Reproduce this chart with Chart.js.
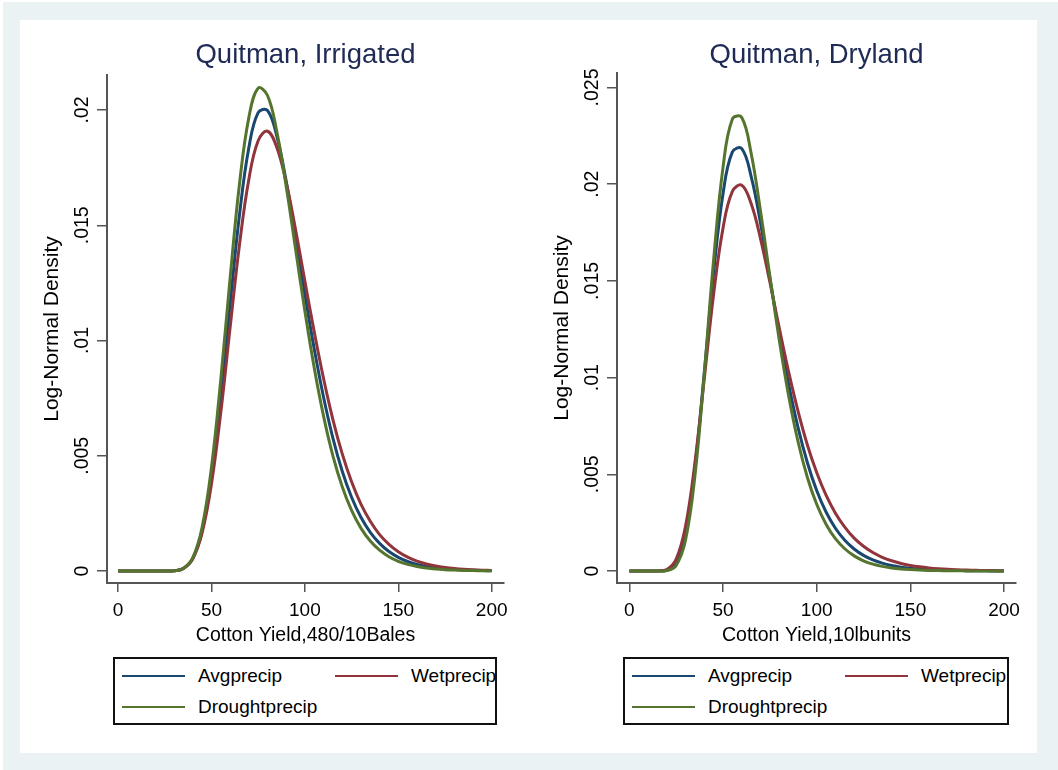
<!DOCTYPE html>
<html>
<head>
<meta charset="utf-8">
<script src="https://cdn.jsdelivr.net/npm/chart.js@4.4.0/dist/chart.umd.min.js"></script>
<style>
  html, body { margin: 0; padding: 0; background: #fff; }
  #frame { position: absolute; left: 3px; top: 2px; width: 1055px; height: 768px; background: #EAF2F3; }
  #panel { position: absolute; left: 20px; top: 20px; width: 1017px; height: 733px; background: #fff; }
  canvas { position: absolute; }
  .legend { position: absolute; top: 657px; height: 68px; border: 2px solid #111; box-sizing: border-box; overflow: hidden;
            font-family: "Liberation Sans", Arial, sans-serif; font-size: 19px; color: #000; background: #fff; }
  .legend .sw { position: absolute; width: 63px; height: 2px; }
  .legend .lb { position: absolute; white-space: nowrap; line-height: 22px; }
</style>
</head>
<body>
<div id="frame"></div>
<div id="panel"></div>
<canvas id="chartIrr" width="510" height="640" style="left:20px;top:20px;width:510px;height:640px"></canvas>
<canvas id="chartDry" width="507" height="640" style="left:530px;top:20px;width:507px;height:640px"></canvas>
<div class="legend" id="legendIrr" style="left:113px;width:384px"></div>
<div class="legend" id="legendDry" style="left:623px;width:386px"></div>
<script>
  const xValues = [0, 5, 10, 15, 20, 25, 30, 35, 40, 45, 50, 55, 60, 65, 70, 75, 80, 85, 90, 95,
    100, 105, 110, 115, 120, 125, 130, 135, 140, 145, 150, 155, 160, 165, 170, 175, 180, 185, 190, 195, 200];

  // Quitman, Irrigated
  const irrAvg = [0, 0, 0, 0, 0, 0.000001, 0.000012, 0.000109, 0.00054, 0.00174,
    0.00407, 0.00752, 0.01158, 0.01545, 0.01836, 0.01989, 0.01998, 0.01886, 0.01691, 0.01451,
    0.01201, 0.00964, 0.00754, 0.00577, 0.00433, 0.0032, 0.00233, 0.00168, 0.0012, 0.000845,
    0.000594, 0.000413, 0.000287, 0.000198, 0.000136, 0.000093, 0.000064, 0.000044, 0.00003, 0.00002,
    0.000014];
  const irrWet = [0, 0, 0, 0, 0, 0.000001, 0.000014, 0.000114, 0.000532, 0.00165,
    0.00377, 0.00688, 0.01057, 0.01415, 0.01699, 0.01867, 0.01908, 0.01838, 0.01685, 0.01482,
    0.01258, 0.01038, 0.00835, 0.00657, 0.00508, 0.00387, 0.0029, 0.00216, 0.00158, 0.00116,
    0.000837, 0.000602, 0.00043, 0.000307, 0.000217, 0.000154, 0.000109, 0.000076, 0.000054, 0.000038,
    0.000027];
  const irrDrought = [0, 0, 0, 0, 0, 0, 0.000012, 0.000112, 0.000578, 0.0019,
    0.00449, 0.00831, 0.01272, 0.01679, 0.01967, 0.02095, 0.02063, 0.01906, 0.01669, 0.01398,
    0.01128, 0.00882, 0.00672, 0.005, 0.00366, 0.00263, 0.00186, 0.0013, 0.000903, 0.000621,
    0.000423, 0.000287, 0.000193, 0.00013, 0.000087, 0.000058, 0.000039, 0.000026, 0.000017, 0.000011,
    0.000007];

  // Quitman, Dryland
  const dryAvg = [0, 0, 0, 0.000001, 0.00004, 0.000432, 0.00198, 0.00536, 0.01026, 0.01544,
    0.01951, 0.02167, 0.02184, 0.02041, 0.018, 0.01515, 0.01228, 0.00967, 0.00744, 0.00561,
    0.00416, 0.00305, 0.00221, 0.00159, 0.00114, 0.00081, 0.000574, 0.000405, 0.000285, 0.0002,
    0.000141, 0.000099, 0.000069, 0.000049, 0.000034, 0.000024, 0.000017, 0.000012, 0.000008, 0.000006,
    0.000004];
  const dryWet = [0, 0, 0, 0.000003, 0.000079, 0.000618, 0.00233, 0.0056, 0.00995, 0.01433,
    0.01773, 0.01963, 0.01995, 0.019, 0.01719, 0.01494, 0.01257, 0.01031, 0.00828, 0.00653,
    0.00509, 0.00392, 0.00299, 0.00227, 0.0017, 0.00128, 0.000954, 0.00071, 0.000528, 0.000391,
    0.00029, 0.000215, 0.000159, 0.000118, 0.000087, 0.000065, 0.000048, 0.000035, 0.000026, 0.00002,
    0.000015];
  const dryDrought = [0, 0, 0, 0, 0.00002, 0.000288, 0.0016, 0.00492, 0.01021, 0.01611,
    0.02087, 0.02337, 0.02345, 0.0216, 0.01862, 0.01524, 0.01196, 0.00908, 0.00671, 0.00485,
    0.00345, 0.00242, 0.00167, 0.00115, 0.000782, 0.000529, 0.000357, 0.00024, 0.000161, 0.000107,
    0.000072, 0.000048, 0.000032, 0.000021, 0.000014, 0.00001, 0.000006, 0.000004, 0.000003, 0.000002,
    0.000001];

  const seriesNames = ['Avgprecip', 'Wetprecip', 'Droughtprecip'];
  const xTicks = [0, 50, 100, 150, 200];
  const yTicksIrr = [0, 0.005, 0.01, 0.015, 0.02];
  const yLabelsIrr = ['0', '.005', '.01', '.015', '.02'];
  const yTicksDry = [0, 0.005, 0.01, 0.015, 0.02, 0.025];
  const yLabelsDry = ['0', '.005', '.01', '.015', '.02', '.025'];

  const colors = ['#1A476F', '#90353B', '#55752F'];
  const fam = "'Liberation Sans', Arial, sans-serif";
  const axisGray = '#555';

  function points(ys) {
    return xValues.map((x, i) => ({ x: x, y: ys[i] }));
  }

  function makeChart(id, title, xTitle, series, yTicks, yLabels, yMin, yMax, xMin, xMax, padRight, titleGap) {
    return new Chart(document.getElementById(id), {
      type: 'line',
      data: {
        datasets: series.map((ys, i) => ({
          label: seriesNames[i],
          data: points(ys),
          borderColor: colors[i],
          backgroundColor: colors[i],
          borderWidth: 3,
          pointRadius: 0,
          tension: 0.4,
          fill: false,
          order: 3 - i
        }))
      },
      options: {
        responsive: false,
        animation: false,
        events: [],
        layout: { padding: { left: 0, right: padRight, top: 0, bottom: 0 } },
        plugins: {
          legend: { display: false },
          tooltip: { enabled: false },
          title: {
            display: true,
            text: title,
            fullSize: false,
            color: '#1E2B55',
            font: { family: fam, size: 27.5, weight: 'normal' },
            padding: { top: 18.5, bottom: titleGap }
          }
        },
        scales: {
          x: {
            type: 'linear',
            min: xMin,
            max: xMax,
            afterBuildTicks: s => { s.ticks = xTicks.map(v => ({ value: v })); },
            afterFit: s => { s.height = 77; },
            grid: { display: true, drawOnChartArea: false, drawTicks: true, tickLength: 9, color: axisGray, tickColor: axisGray, lineWidth: 1.5 },
            border: { display: true, color: axisGray, width: 2 },
            ticks: { color: '#000', font: { family: fam, size: 19 }, padding: 7, maxRotation: 0, autoSkip: false },
            title: { display: true, text: xTitle, color: '#000', font: { family: fam, size: 19.5 }, padding: { top: 0, bottom: 13 } }
          },
          y: {
            min: yMin,
            max: yMax,
            afterBuildTicks: s => { s.ticks = yTicks.map(v => ({ value: v })); },
            afterFit: s => { s.width = 87; },
            grid: { display: true, drawOnChartArea: false, drawTicks: true, tickLength: 10, color: axisGray, tickColor: axisGray, lineWidth: 1.5 },
            border: { display: true, color: axisGray, width: 2 },
            ticks: {
              color: '#000',
              font: { family: fam, size: 19.5 },
              minRotation: 90,
              maxRotation: 90,
              crossAlign: 'center',
              padding: -5,
              autoSkip: false,
              callback: v => yLabels[yTicks.indexOf(v)]
            },
            title: { display: true, text: 'Log-Normal Density', color: '#000', font: { family: fam, size: 21 }, padding: { top: 20, bottom: 0 } }
          }
        }
      }
    });
  }

  function buildLegend(id, chart) {
    const box = document.getElementById(id);
    const slots = [[7, 0], [220, 0], [7, 1]];
    chart.data.datasets.forEach((ds, i) => {
      const col = slots[i][0], row = slots[i][1];
      const sw = document.createElement('div');
      sw.className = 'sw';
      sw.style.left = col + 'px';
      sw.style.top = (16 + row * 31) + 'px';
      sw.style.background = ds.borderColor;
      box.appendChild(sw);
      const lb = document.createElement('div');
      lb.className = 'lb';
      lb.style.left = (col + 76) + 'px';
      lb.style.top = (6 + row * 31) + 'px';
      lb.textContent = ds.label;
      box.appendChild(lb);
    });
  }

  const chartIrr = makeChart('chartIrr', 'Quitman, Irrigated', 'Cotton Yield,480/10Bales',
    [irrAvg, irrWet, irrDrought], yTicksIrr, yLabelsIrr, -0.00052, 0.02152, -5.9, 206.57, 26, 3.5);
  const chartDry = makeChart('chartDry', 'Quitman, Dryland', 'Cotton Yield,10lbunits',
    [dryAvg, dryWet, dryDrought], yTicksDry, yLabelsDry, -0.00062, 0.02575, -6.6, 206.4, 21, 1.5);

  buildLegend('legendIrr', chartIrr);
  buildLegend('legendDry', chartDry);
</script>
</body>
</html>
